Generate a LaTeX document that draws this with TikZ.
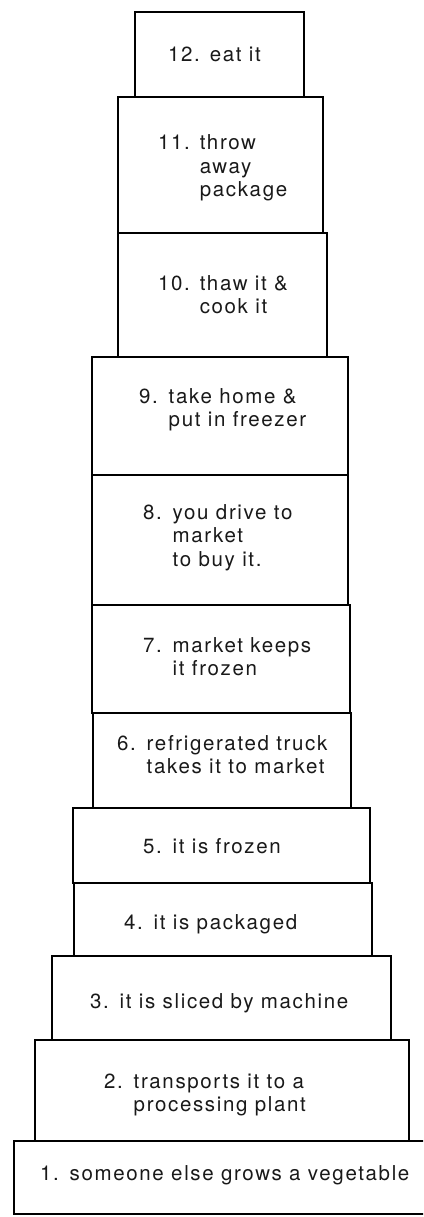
\documentclass[tikz,border=0pt]{standalone}
\usepackage{fontspec}
\setmainfont{TeX Gyre Heros}[LetterSpace=8]
\usetikzlibrary{fit}
\begin{document}
\begin{tikzpicture}[x=1pt,y=-1pt,
  stepbox/.style={draw=black, line width=1.5pt, inner sep=0pt, outer sep=0pt},
  steptext/.style={anchor=base west, inner sep=0pt, outer sep=0pt,
    font=\fontsize{20.5}{23.5}\selectfont, text=black!90}]
\useasboundingbox (0,0) rectangle (423,1217);
\fill[white] (0,0) rectangle (423,1217);
\clip (0,0) rectangle (423,1217);
% boxes
\node[stepbox, fit={(135,12) (304,97)}] (b12) {};
\node[stepbox, fit={(118,97) (323,233)}] (b11) {};
\node[stepbox, fit={(118,233) (327,357)}] (b10) {};
\node[stepbox, fit={(92,357) (348,475)}] (b9) {};
\node[stepbox, fit={(92,475) (348,605)}] (b8) {};
\node[stepbox, fit={(92,605) (350,713)}] (b7) {};
\node[stepbox, fit={(93,713) (351,808)}] (b6) {};
\node[stepbox, fit={(73,808) (370,883)}] (b5) {};
\node[stepbox, fit={(74,883) (372,956)}] (b4) {};
\node[stepbox, fit={(52,956) (391,1040)}] (b3) {};
\node[stepbox, fit={(35,1040) (409,1141)}] (b2) {};
\node[stepbox, fit={(14,1141) (432,1214)}] (b1) {};
% texts
\node[steptext] (t12) at (168,62) {\begin{tabular}[t]{@{}l@{\hspace{10pt}}l@{}}12.&eat it\end{tabular}};
\node[steptext] (t11) at (158,150) {\begin{tabular}[t]{@{}l@{\hspace{10pt}}l@{}}11.&throw\\&away\\&package\end{tabular}};
\node[steptext] (t10) at (158,290) {\begin{tabular}[t]{@{}l@{\hspace{10pt}}l@{}}10.&thaw it \&\\&cook it\end{tabular}};
\node[steptext] (t9) at (139,403) {\begin{tabular}[t]{@{}l@{\hspace{11pt}}l@{}}9.&take home \&\\&put in freezer\end{tabular}};
\node[steptext] (t8) at (143,519) {\begin{tabular}[t]{@{}l@{\hspace{11pt}}l@{}}8.&you drive to\\&market\\&to buy it.\end{tabular}};
\node[steptext] (t7) at (143,652) {\begin{tabular}[t]{@{}l@{\hspace{11pt}}l@{}}7.&market keeps\\&it frozen\end{tabular}};
\node[steptext] (t6) at (117,750) {\begin{tabular}[t]{@{}l@{\hspace{11pt}}l@{}}6.&refrigerated truck\\&takes it to market\end{tabular}};
\node[steptext] (t5) at (143,853) {\begin{tabular}[t]{@{}l@{\hspace{11pt}}l@{}}5.&it is frozen\end{tabular}};
\node[steptext] (t4) at (124,929) {\begin{tabular}[t]{@{}l@{\hspace{11pt}}l@{}}4.&it is packaged\end{tabular}};
\node[steptext] (t3) at (90,1008) {\begin{tabular}[t]{@{}l@{\hspace{11pt}}l@{}}3.&it is sliced by machine\end{tabular}};
\node[steptext] (t2) at (104,1088) {\begin{tabular}[t]{@{}l@{\hspace{11pt}}l@{}}2.&transports it to a\\&processing plant\end{tabular}};
\node[steptext] (t1) at (40,1180) {\begin{tabular}[t]{@{}l@{\hspace{11pt}}l@{}}1.&someone else grows a vegetable\end{tabular}};
\end{tikzpicture}
\end{document}
